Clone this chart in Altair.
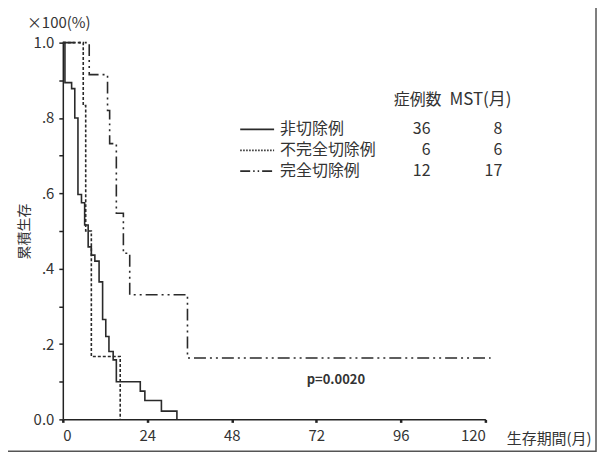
import altair as alt
import pandas as pd

# Kaplan-Meier step curves (month, survival after event)
solid_t = [0, 0.6, 2.5, 3.4, 4.3, 5.3, 6.2, 7.2, 8.1, 9.1, 10.3, 11.3, 12.2, 13.1, 14.3, 15.2, 22.0, 23.3, 28.0, 32.4]
solid_v = [1.0, 0.894, 0.878, 0.80, 0.597, 0.575, 0.516, 0.458, 0.436, 0.42, 0.365, 0.265, 0.22, 0.18, 0.158, 0.10, 0.075, 0.05, 0.022, 0.0]
dot_t = [0, 5.8, 6.5, 8.1, 16.3]
dot_v = [1.0, 0.833, 0.5, 0.167, 0.0]
dd_t = [0, 7.5, 12.7, 13.3, 15.2, 17.2, 19.0, 35.4, 121.5]
dd_v = [1.0, 0.915, 0.82, 0.732, 0.547, 0.441, 0.331, 0.163, 0.163]

groups = ["非切除例", "不完全切除例", "完全切除例"]
counts = ["36", "6", "12"]
mst = ["8", "6", "17"]
x_ticks = [0, 24, 48, 72, 96, 120]
y_ticks = [0, 0.1, 0.2, 0.3, 0.4, 0.5, 0.6, 0.7, 0.8, 0.9, 1.0]

FONT = "Noto Sans CJK JP"
INK = "#333333"

W, H = 424, 378
xs = alt.Scale(domain=[0, 120], nice=False)
ys = alt.Scale(domain=[0, 1], nice=False)

def curve(t, v, dash):
    df = pd.DataFrame({"t": t, "v": v})
    kw = dict(interpolate="step-after", color="#2a2a2a", strokeWidth=1.6, clip=False)
    if dash:
        kw["strokeDash"] = dash
    return alt.Chart(df).mark_line(**kw).encode(
        x=alt.X("t:Q", scale=xs, axis=alt.Axis(
            values=x_ticks, title="生存期間(月)", titleX=445, titleY=19,
            titleAlign="left", titleBaseline="middle", titleFontWeight="normal",
            titleFontSize=15, titleColor=INK, titleFont=FONT,
            labelFontSize=15, labelColor=INK, labelFont=FONT, labelPadding=6,
            tickSize=3, tickWidth=2.5, tickColor="#222", domainColor="#222",
            domainWidth=1.5, grid=False)),
        y=alt.Y("v:Q", scale=ys, axis=alt.Axis(
            values=y_ticks, title="累積生存", titleX=-38, titleY=H / 2,
            titleAngle=-90, titleAlign="center", titleBaseline="middle",
            titleFontWeight="normal", titleFontSize=14, titleColor=INK, titleFont=FONT,
            labelExpr="datum.value == 0 ? '0.0' : datum.value == 1 ? '1.0' : (round(datum.value*10) % 2 == 0 ? replace(format(datum.value, '.1f'), '0.', '.') : '')",
            labelFontSize=15, labelColor=INK, labelFont=FONT, labelPadding=5,
            tickSize=4, tickWidth=1.5, tickColor="#222", domainColor="#222",
            domainWidth=1.5, grid=False)),
    )

solid = curve(solid_t, solid_v, None)
dotted = curve(dot_t, dot_v, [3, 2])
dashdot = curve(dd_t, dd_v, [12, 4, 2, 4, 2, 4])

# legend
leg_y = [87, 108, 129]
leg_dash = [[1, 0], [1.5, 1.5], [10, 3, 1.5, 3, 1.5, 3]]
legend_layers = []
for i in range(3):
    legend_layers.append(
        alt.Chart(pd.DataFrame({"a": [0]})).mark_rule(
            color="#2a2a2a", strokeWidth=1.8, strokeDash=leg_dash[i]).encode(
            x=alt.value(178), x2=alt.value(212), y=alt.value(leg_y[i]))
    )
leg_df = pd.DataFrame({"name": groups, "n": counts, "mst": mst, "y": leg_y})
txt = dict(font=FONT, fontSize=16, color=INK, baseline="middle")
leg_names = alt.Chart(leg_df).mark_text(align="left", **txt).encode(
    x=alt.value(218), y=alt.Y("y:Q", scale=None), text="name:N")
leg_n = alt.Chart(leg_df).mark_text(align="right", **txt).encode(
    x=alt.value(369), y=alt.Y("y:Q", scale=None), text="n:N")
leg_m = alt.Chart(leg_df).mark_text(align="right", **txt).encode(
    x=alt.value(441), y=alt.Y("y:Q", scale=None), text="mst:N")
hdr1 = alt.Chart(pd.DataFrame({"s": ["症例数"]})).mark_text(align="center", **txt).encode(
    x=alt.value(356), y=alt.value(58), text="s:N")
hdr2 = alt.Chart(pd.DataFrame({"s": ["MST(月)"]})).mark_text(align="left", font=FONT, fontSize=17, color=INK, baseline="middle").encode(
    x=alt.value(388), y=alt.value(58), text="s:N")

pval = alt.Chart(pd.DataFrame({"s": ["p=0.0020"]})).mark_text(
    align="center", baseline="middle", font=FONT, fontSize=13, fontWeight="bold", color=INK
).encode(x=alt.value(274), y=alt.value(339), text="s:N")

unit = alt.Chart(pd.DataFrame({"s": ["×100(%)"]})).mark_text(
    align="left", baseline="middle", font=FONT, fontSize=15, color=INK
).encode(x=alt.value(-36), y=alt.value(-20), text="s:N")

frame = alt.Chart(pd.DataFrame({"a": [0]})).mark_rect(
    fill=None, stroke="#555555", strokeWidth=1.5, clip=False
).encode(x=alt.value(-56), x2=alt.value(535), y=alt.value(-38), y2=alt.value(410))

chart = alt.layer(
    frame, dotted, solid, dashdot, *legend_layers, leg_names, leg_n, leg_m,
    hdr1, hdr2, pval, unit
).properties(
    width=W, height=H,
    autosize=alt.AutoSizeParams(type="none"),
    padding={"left": 55, "top": 34, "right": 113, "bottom": 38},
    background="white",
).configure_view(stroke=None)

chart.save("out.html", embed_options={"renderer": "svg", "actions": False})
